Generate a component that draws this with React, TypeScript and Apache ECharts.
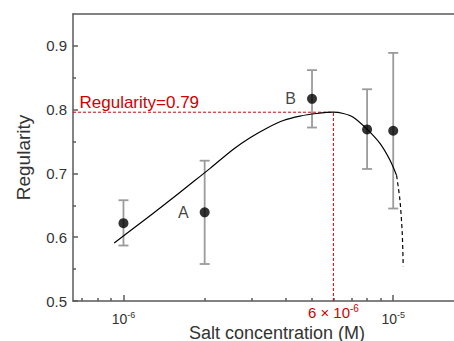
import React, { useEffect, useRef } from "react";
import * as echarts from "echarts";

// Measured points (salt concentration in M)
const concentrations = [1e-6, 2e-6, 5e-6, 8e-6, 1e-5];
const regularity = [0.622, 0.639, 0.817, 0.769, 0.767];
const errorLow = [0.587, 0.558, 0.772, 0.707, 0.645];
const errorHigh = [0.658, 0.72, 0.862, 0.832, 0.889];
const pointLabels = ["", "A", "B", "", ""];

// Fitted curve (solid) and its extrapolation (dashed)
const fitConc = [9.24e-7, 1.153e-6, 1.427e-6, 1.766e-6, 2.095e-6, 2.555e-6, 2.946e-6, 3.397e-6, 3.913e-6, 4.512e-6, 5.204e-6, 5.98e-6, 6.53e-6, 7.11e-6, 8.01e-6, 8.93e-6, 9.72e-6, 1.029e-5];
const fitValue = [0.591, 0.622, 0.652, 0.683, 0.708, 0.738, 0.756, 0.771, 0.783, 0.79, 0.794, 0.796, 0.794, 0.788, 0.769, 0.747, 0.721, 0.697];
const extrapConc = [1.029e-5, 1.059e-5, 1.08e-5, 1.089e-5];
const extrapValue = [0.697, 0.658, 0.606, 0.554];

// Optimum annotation
const peakConc = 6e-6;
const peakValue = 0.796;
const peakLabel = "Regularity=0.79";

// Axes
const xMin = 6.5e-7;
const xMax = 1.68e-5;
const yMin = 0.5;
const yMax = 0.95;
const yTicks = [0.5, 0.6, 0.7, 0.8, 0.9];
const yMinorTicks = [0.55, 0.65, 0.75, 0.85];
const xMajorTicks = [1e-6, 1e-5];
const xMinorTicks = [7e-7, 8e-7, 9e-7, 2e-6, 3e-6, 4e-6, 5e-6, 6e-6, 7e-6, 8e-6, 9e-6];

const xName = "Salt concentration (M)";
const yName = "Regularity";

const FONT = "'Liberation Sans', Arial, sans-serif";
const AXIS_COLOR = "#5a5a5a";
const TEXT_COLOR = "#333";
const RED = "#d10000";

const lg = (v: number) => Math.log10(v);

export default function App() {
  const ref = useRef<HTMLDivElement>(null);

  useEffect(() => {
    if (!ref.current) return;
    const chart = echarts.init(ref.current, null, { renderer: "svg" });

    const axisLine = { show: true, lineStyle: { color: AXIS_COLOR, width: 1.5 } };
    const hiddenMark = { symbol: "circle", symbolSize: 1, itemStyle: { color: "rgba(0,0,0,0)" }, silent: true };

    const option: any = {
      animation: false,
      textStyle: { fontFamily: FONT },
      grid: { left: 73, top: 14, right: 0, bottom: 40, containLabel: false },
      xAxis: [
        {
          type: "value",
          min: lg(xMin),
          max: lg(xMax),
          position: "bottom",
          axisLine,
          splitLine: { show: false },
          axisTick: {
            inside: true,
            length: 6,
            customValues: xMajorTicks.map(lg),
            lineStyle: { color: AXIS_COLOR, width: 1.5 },
          },
          axisLabel: {
            customValues: xMajorTicks.map(lg),
            margin: 9,
            fontSize: 14,
            formatter: (v: number) => "{b|10}{s|" + Math.round(v) + "}",
            rich: {
              b: { fontSize: 14, color: TEXT_COLOR, fontFamily: FONT },
              s: { fontSize: 9, color: TEXT_COLOR, fontFamily: FONT, padding: [0, 0, 8, 0] },
            },
          },
        },
        {
          type: "value",
          min: lg(xMin),
          max: lg(xMax),
          position: "bottom",
          axisLine: { show: false },
          splitLine: { show: false },
          axisTick: {
            inside: true,
            length: 3,
            customValues: xMinorTicks.map(lg),
            lineStyle: { color: AXIS_COLOR, width: 1.5 },
          },
          axisLabel: { show: false },
        },
        {
          type: "value",
          min: lg(xMin),
          max: lg(xMax),
          position: "top",
          axisLine,
          splitLine: { show: false },
          axisTick: { show: false },
          axisLabel: { show: false },
        },
      ],
      yAxis: [
        {
          type: "value",
          min: yMin,
          max: yMax,
          position: "left",
          axisLine,
          splitLine: { show: false },
          axisTick: {
            inside: true,
            length: 5,
            customValues: yTicks,
            lineStyle: { color: AXIS_COLOR, width: 1.5 },
          },
          axisLabel: {
            customValues: yTicks,
            formatter: (v: number) => v.toFixed(1),
            fontSize: 15,
            color: TEXT_COLOR,
            margin: 6,
          },
          name: yName,
          nameLocation: "middle",
          nameGap: 40,
          nameTextStyle: { fontSize: 19, color: TEXT_COLOR, fontFamily: FONT },
        },
        {
          type: "value",
          min: yMin,
          max: yMax,
          position: "left",
          axisLine: { show: false },
          splitLine: { show: false },
          axisTick: {
            inside: true,
            length: 3,
            customValues: yMinorTicks,
            lineStyle: { color: AXIS_COLOR, width: 1.5 },
          },
          axisLabel: { show: false },
        },
      ],
      graphic: [
        {
          type: "text",
          x: 277,
          y: 332.5,
          style: {
            text: xName,
            fontSize: 18,
            fontFamily: FONT,
            fill: TEXT_COLOR,
            align: "center",
            verticalAlign: "middle",
          },
        },
      ],
      series: [
        {
          type: "custom",
          name: "error",
          xAxisIndex: 0,
          yAxisIndex: 0,
          z: 2,
          encode: { x: 0, y: [1, 2] },
          data: concentrations.map((c, i) => [lg(c), errorLow[i], errorHigh[i]]),
          renderItem: (params: any, api: any) => {
            const x = api.value(0);
            const lo = api.coord([x, api.value(1)]);
            const hi = api.coord([x, api.value(2)]);
            const w = 5;
            const style = { stroke: "#9b9b9b", lineWidth: 1.8 };
            return {
              type: "group",
              children: [
                { type: "line", shape: { x1: lo[0], y1: lo[1], x2: hi[0], y2: hi[1] }, style },
                { type: "line", shape: { x1: lo[0] - w, y1: lo[1], x2: lo[0] + w, y2: lo[1] }, style },
                { type: "line", shape: { x1: hi[0] - w, y1: hi[1], x2: hi[0] + w, y2: hi[1] }, style },
              ],
            };
          },
        },
        {
          type: "line",
          name: "peak level",
          z: 2,
          showSymbol: false,
          silent: true,
          lineStyle: { color: RED, type: [3, 2], width: 1 },
          data: [
            [lg(xMin), peakValue],
            [lg(peakConc), peakValue],
          ],
          markPoint: {
            ...hiddenMark,
            data: [
              {
                coord: [lg(xMin), peakValue],
                label: {
                  show: true,
                  position: "right",
                  distance: 5,
                  offset: [1, -10],
                  formatter: peakLabel,
                  color: RED,
                  fontSize: 17,
                  fontFamily: FONT,
                },
              },
            ],
          },
        },
        {
          type: "line",
          name: "peak concentration",
          z: 2,
          showSymbol: false,
          silent: true,
          lineStyle: { color: RED, type: [3, 2], width: 1 },
          data: [
            [lg(peakConc), yMin],
            [lg(peakConc), peakValue],
          ],
          markPoint: {
            ...hiddenMark,
            data: [
              {
                coord: [lg(peakConc), yMin],
                label: {
                  show: true,
                  position: "bottom",
                  distance: 2,
                  formatter: "{n|6 × 10}{s|-6}",
                  rich: {
                    n: { fontSize: 15, color: RED, fontFamily: FONT },
                    s: { fontSize: 10, color: RED, fontFamily: FONT, padding: [0, 0, 7, 0] },
                  },
                },
              },
            ],
          },
        },
        {
          type: "line",
          name: "fit",
          z: 3,
          showSymbol: false,
          smooth: 0.3,
          lineStyle: { color: "#000", width: 1.2 },
          data: fitConc.map((c, i) => [lg(c), fitValue[i]]),
        },
        {
          type: "line",
          name: "extrapolation",
          z: 3,
          showSymbol: false,
          smooth: 0.3,
          lineStyle: { color: "#000", width: 1.2, type: [4, 3] },
          data: extrapConc.map((c, i) => [lg(c), extrapValue[i]]),
        },
        {
          type: "scatter",
          name: "measured",
          z: 4,
          symbol: "circle",
          symbolSize: 10,
          itemStyle: { color: "#000" },
          label: {
            show: true,
            position: "left",
            distance: 11,
            fontSize: 16,
            color: "#111",
            fontFamily: FONT,
            formatter: (p: any) => pointLabels[p.dataIndex],
          },
          data: concentrations.map((c, i) => [lg(c), regularity[i]]),
        },
      ],
    };

    chart.setOption(option);
    return () => chart.dispose();
  }, []);

  return (
    <div
      ref={ref}
      style={{ position: "fixed", left: 0, top: 0, width: 454, height: 341, overflow: "hidden", background: "#fff" }}
    />
  );
}
